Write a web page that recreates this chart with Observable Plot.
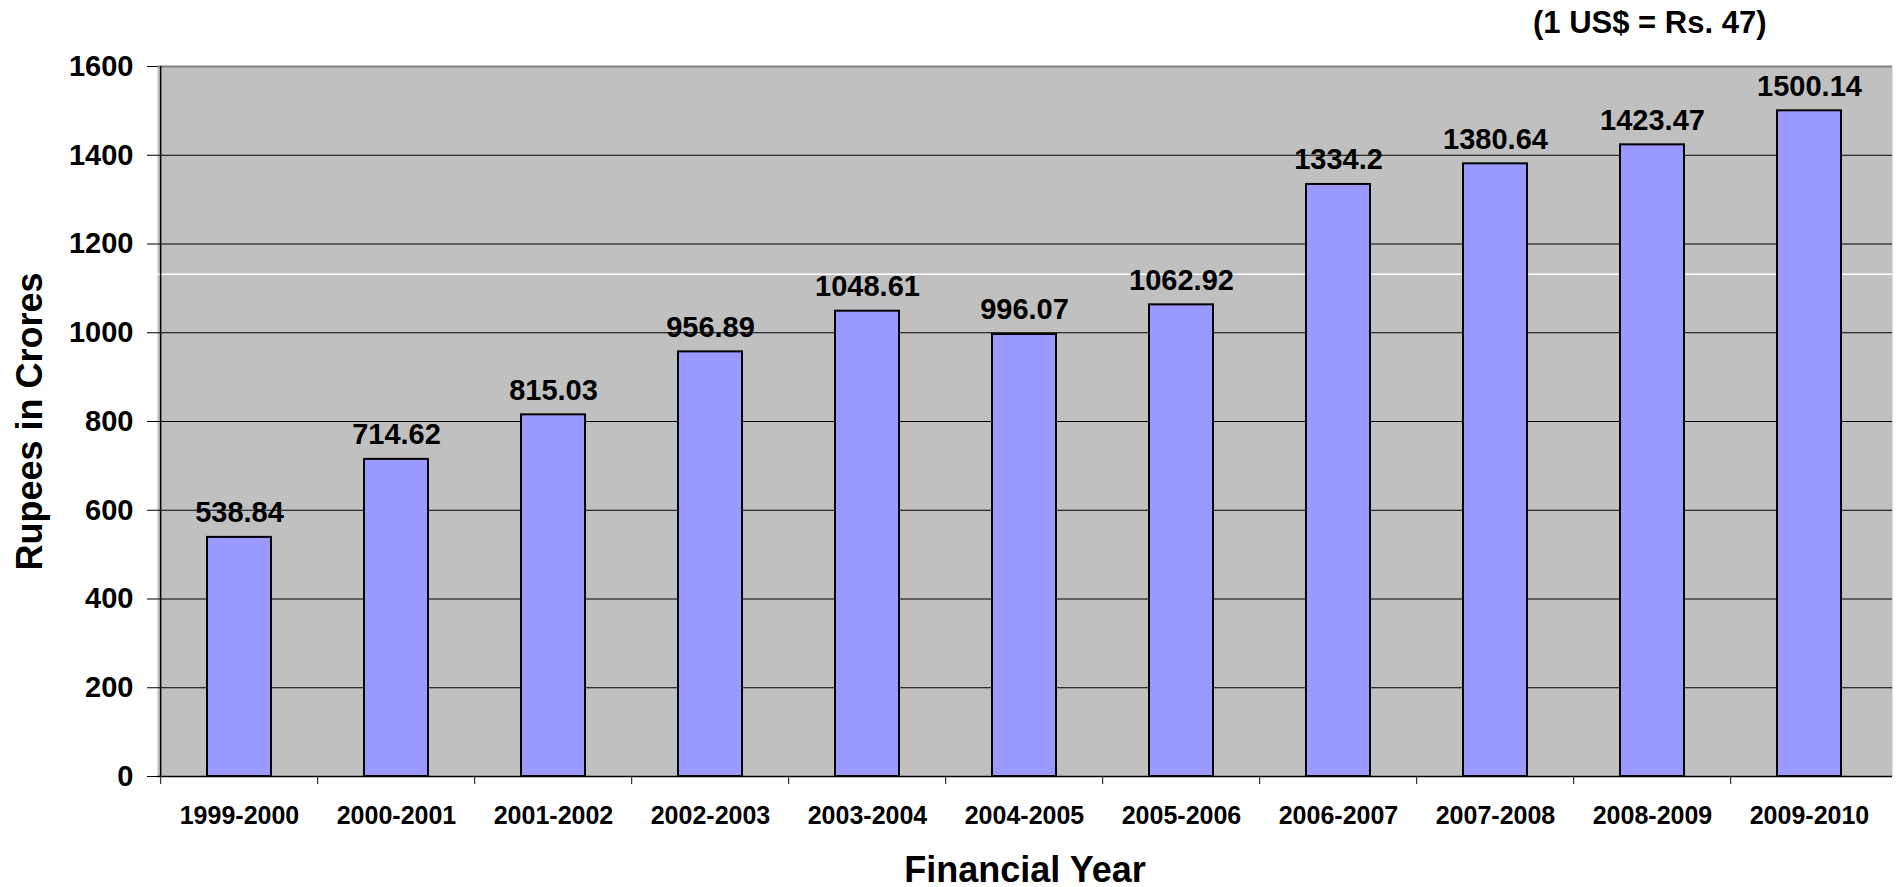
<!DOCTYPE html>
<html><head><meta charset="utf-8">
<script src="https://cdn.jsdelivr.net/npm/d3@7"></script>
<script src="https://cdn.jsdelivr.net/npm/@observablehq/plot@0.6"></script>
<style>
body{margin:0;background:#fff;font-family:"Liberation Sans",Arial,sans-serif;color:#000;}
#wrap{width:1899px;}
#head{position:relative;height:50px;}
#sub{position:absolute;left:1533px;top:7px;font-weight:bold;font-size:31px;line-height:31px;white-space:nowrap;}
</style></head><body>
<div id="wrap"><div id="head"><span id="sub"></span></div><div id="chart"></div></div>
<script>
const categories = ["1999-2000","2000-2001","2001-2002","2002-2003","2003-2004","2004-2005","2005-2006","2006-2007","2007-2008","2008-2009","2009-2010"];
const values = [538.84, 714.62, 815.03, 956.89, 1048.61, 996.07, 1062.92, 1334.2, 1380.64, 1423.47, 1500.14];
const yTicks = [0, 200, 400, 600, 800, 1000, 1200, 1400, 1600];
const subtitle = "(1 US$ = Rs. 47)";
const xTitle = "Financial Year";
const yTitle = "Rupees in Crores";
const whiteLine = [1132];

document.getElementById("sub").textContent = subtitle;

const data = categories.map((c, i) => ({year: c, value: values[i]}));
const W = 1899, H = 837, mT = 16, mR = 7, mB = 111, mL = 157;
const step = (W - mL - mR) / categories.length;
const plotH = H - mT - mB;
const font = '"Liberation Sans", Arial, sans-serif';

const chart = Plot.plot({
  width: W, height: H,
  marginTop: mT, marginRight: mR, marginBottom: mB, marginLeft: mL,
  style: {fontFamily: font, background: "white", color: "black", overflow: "visible"},
  x: {type: "band", domain: categories, paddingInner: 0.59, paddingOuter: 0.295},
  y: {domain: [yTicks[0], yTicks[yTicks.length - 1]]},
  marks: [
    Plot.frame({fill: "#c0c0c0", stroke: "none"}),
    Plot.ruleY(whiteLine, {stroke: "white", strokeWidth: 1.5}),
    Plot.ruleY(yTicks.slice(1, -1), {stroke: "black", strokeWidth: 1}),
    Plot.ruleY(yTicks.slice(-1), {stroke: "#808080", strokeWidth: 2}),
    Plot.barY(data, {x: "year", y: "value", fill: "#9999ff", stroke: "black", strokeWidth: 2}),
    Plot.text(data, {x: "year", y: "value", text: d => String(d.value), lineAnchor: "bottom", dy: -15,
      fontSize: 29, fontWeight: "bold", fill: "black"}),
    Plot.ruleY([0], {stroke: "black", strokeWidth: 1.5}),
    Plot.ruleX(categories.slice(0, 1), {stroke: "black", strokeWidth: 1.5, dx: -step / 2}),
    Plot.ruleX(categories, {stroke: "#333", strokeWidth: 1.2, insetTop: plotH - 8, dy: 8, dx: -step / 2}),
    Plot.axisY({ticks: yTicks, tickSize: 10, tickPadding: 14, fontSize: 29, fontWeight: "bold",
      tickFormat: d => String(d), label: null}),
    Plot.axisX({tickSize: 0, tickPadding: 30, fontSize: 25, fontWeight: "bold", label: null}),
    Plot.text([yTitle], {text: d => d, frameAnchor: "left", textAnchor: "middle", rotate: -90, dx: -127,
      fontSize: 36, fontWeight: "bold", fill: "black"}),
    Plot.text([xTitle], {text: d => d, frameAnchor: "bottom", dy: 105, fontSize: 36, fontWeight: "bold", fill: "black"})
  ]
});
document.getElementById("chart").appendChild(chart);
</script>
</body></html>
